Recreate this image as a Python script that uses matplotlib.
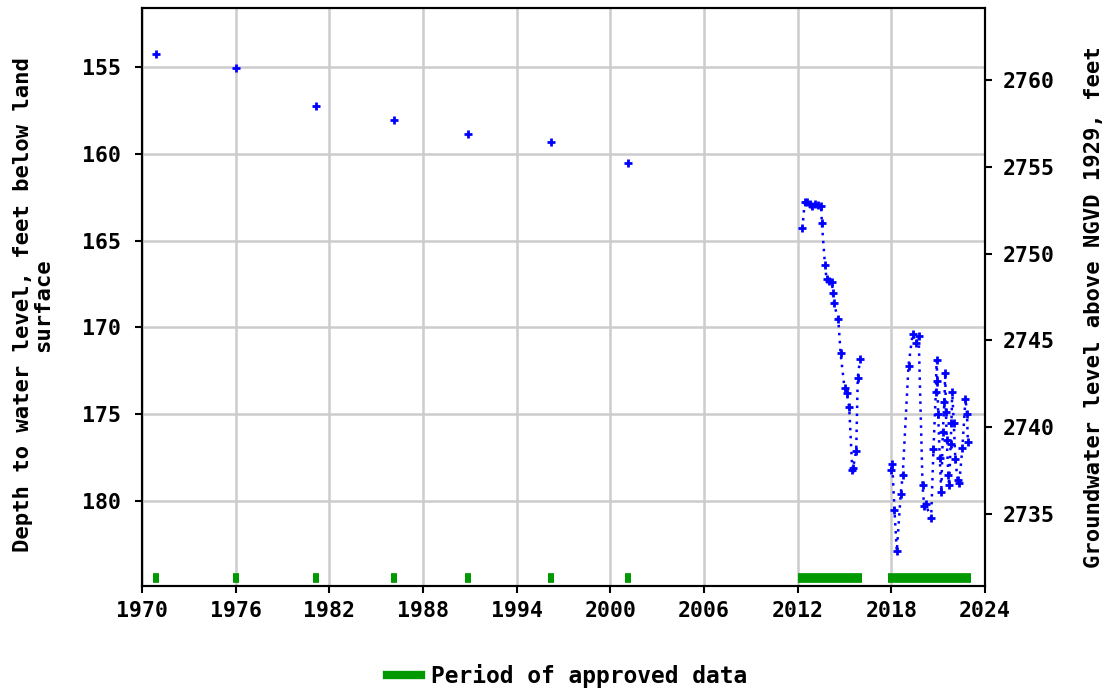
import matplotlib
matplotlib.use("Agg")
import matplotlib.pyplot as plt
from matplotlib.lines import Line2D

# ---- data ----
early_years = [1970.9, 1976.0, 1981.15, 1986.15, 1990.9, 1996.2, 2001.15]
early_depth = [154.25, 155.05, 157.25, 158.05, 158.85, 159.3, 160.55]

seg1_years = [2012.3, 2012.45, 2012.6, 2012.8, 2012.95, 2013.1, 2013.3, 2013.5, 2013.55,
              2013.75, 2013.85, 2014.0, 2014.2, 2014.25, 2014.3, 2014.6, 2014.75, 2015.0,
              2015.15, 2015.3, 2015.5, 2015.55, 2015.75, 2015.85, 2016.0]
seg1_depth = [164.3, 162.8, 162.75, 162.9, 163.0, 162.9, 162.95, 163.0, 164.0,
              166.4, 167.2, 167.3, 167.4, 168.0, 168.6, 169.5, 171.5, 173.5,
              173.8, 174.6, 178.2, 178.1, 177.1, 172.9, 171.8]

seg2_years = [2017.98, 2018.06, 2018.2, 2018.35, 2018.6, 2018.73, 2019.1, 2019.36, 2019.6,
              2019.75, 2020.0, 2020.1, 2020.2, 2020.55, 2020.7, 2020.85, 2020.9, 2020.95,
              2021.0, 2021.1, 2021.2, 2021.3, 2021.4, 2021.45, 2021.5, 2021.55, 2021.65,
              2021.7, 2021.8, 2021.85, 2021.9, 2022.0, 2022.1, 2022.25, 2022.35, 2022.55,
              2022.75, 2022.85, 2022.9]
seg2_depth = [178.2, 177.9, 180.5, 182.9, 179.6, 178.5, 172.2, 170.4, 170.9,
              170.5, 179.1, 180.3, 180.2, 181.0, 177.0, 173.7, 171.9, 173.1,
              175.0, 177.5, 179.5, 176.0, 174.3, 172.6, 174.9, 176.5, 178.5,
              179.1, 176.7, 175.5, 173.7, 175.5, 177.6, 178.8, 178.97, 176.95,
              174.1, 175.0, 176.6]

approved_points = [1970.9, 1976.0, 1981.15, 1986.15, 1990.9, 1996.2, 2001.15]
approved_spans = [(2012.0, 2016.1), (2017.8, 2023.1)]

xticks = [1970, 1976, 1982, 1988, 1994, 2000, 2006, 2012, 2018, 2024]
yticks = [155, 160, 165, 170, 175, 180]
rticks = [2735, 2740, 2745, 2750, 2755, 2760]
datum = 2915.75

# ---- style ----
FONT = "DejaVu Sans Mono"
plt.rcParams['font.family'] = FONT
plt.rcParams['font.weight'] = 'bold'

W, H = 1105, 691
fig = plt.figure(figsize=(W/100, H/100), dpi=100)
ax = fig.add_axes([142/W, 1-586/H, (985-142)/W, (586-8)/H])

ylo, yhi = 151.6, 184.9
ax.set_xlim(1970, 2024)
ax.set_ylim(yhi, ylo)

ax.grid(True, color="#cccccc", linewidth=1.8)
ax.set_axisbelow(True)
ax.set_xticks(xticks)
ax.set_yticks(yticks)
ax.tick_params(axis='y', labelsize=15.5, length=5, width=1.5, direction='out', pad=10)
ax.tick_params(axis='x', labelsize=15.5, length=5, width=1.5, direction='out', pad=6)
for s in ax.spines.values():
    s.set_linewidth(1.5)

blue = "#0000ff"
ax.plot(early_years, early_depth, linestyle='none', marker='+', color=blue,
        markersize=6, markeredgewidth=2)
for yrs, dep in [(seg1_years, seg1_depth), (seg2_years, seg2_depth)]:
    ax.plot(yrs, dep, linestyle=(0, (1, 2.2)), linewidth=1.8, color=blue,
            marker='+', markersize=6, markeredgewidth=2)

green = "#009900"
bar_y = 184.42
for yr in approved_points:
    ax.plot([yr - 0.2, yr + 0.2], [bar_y, bar_y], color=green, linewidth=7,
            solid_capstyle='butt')
for a, b in approved_spans:
    ax.plot([a, b], [bar_y, bar_y], color=green, linewidth=7, solid_capstyle='butt')

ax2 = ax.twinx()
ax2.set_ylim(datum - yhi, datum - ylo)
ax2.set_yticks(rticks)
ax2.tick_params(axis='y', labelsize=15.5, length=5, width=1.5, direction='out', pad=8)
for s in ax2.spines.values():
    s.set_linewidth(1.5)

fig.text(33/W, 1-305/H, "Depth to water level, feet below land\nsurface",
         rotation=90, ha='center', va='center', multialignment='center',
         fontsize=16, fontweight='bold', linespacing=1.0)
fig.text(1094/W, 1-307/H, "Groundwater level above NGVD 1929, feet",
         rotation=90, ha='center', va='center', fontsize=16, fontweight='bold')

handle = Line2D([0], [0], color=green, linewidth=6)
fig.legend([handle], ["Period of approved data"], loc='center',
           bbox_to_anchor=(567/W, 1-676/H), frameon=False, fontsize=16.5,
           handlelength=1.5, handletextpad=0.45)

fig.savefig("out.png", dpi=100)
